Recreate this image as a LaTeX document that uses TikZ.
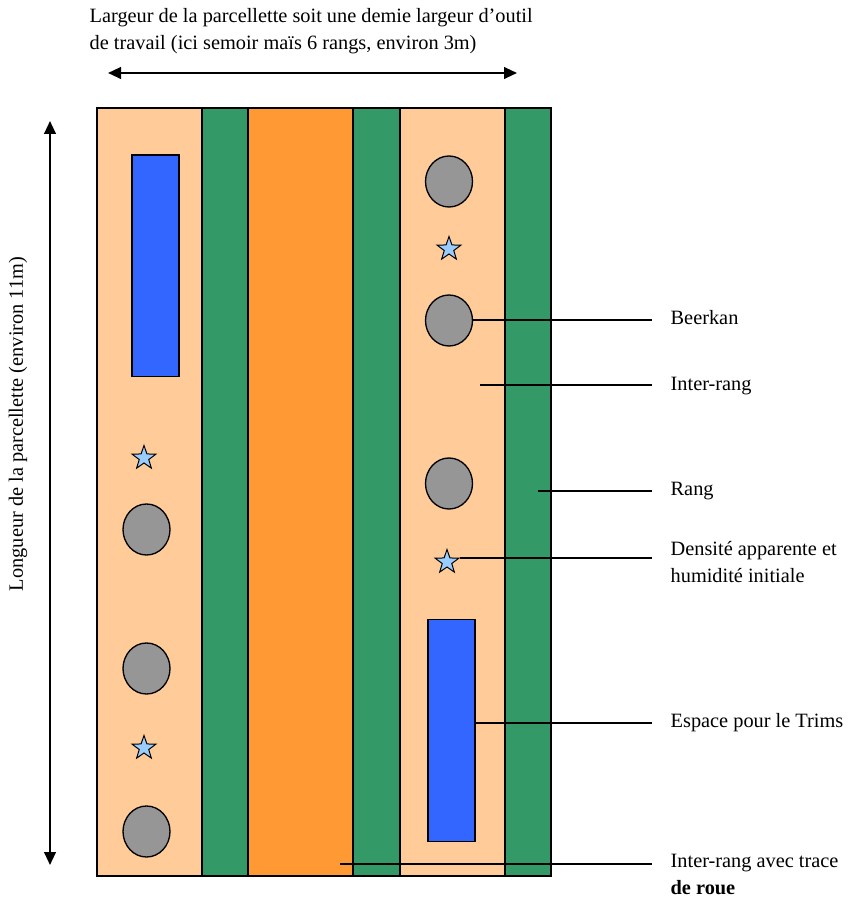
\documentclass[tikz,border=0pt]{standalone}
\usepackage{fontspec}
\setmainfont{Liberation Serif}
\usetikzlibrary{shapes.geometric,arrows.meta}
\definecolor{peach}{HTML}{FFCC99}
\definecolor{rowgreen}{HTML}{339966}
\definecolor{wheelorange}{HTML}{FF9933}
\definecolor{trimsblue}{HTML}{3366FF}
\definecolor{beergray}{HTML}{969696}
\definecolor{starblue}{HTML}{99CCFF}
\begin{document}
\begin{tikzpicture}[x=0.6pt, y=-0.6pt, thick,
  col/.style={draw=black, line width=0.8pt},
  beer/.style={shape=ellipse, draw=black, fill=beergray, minimum width=28.2pt, minimum height=30.6pt, inner sep=0pt, line width=0.8pt},
  dens/.style={shape=star, star points=5, star point ratio=2.5, draw=black, fill=starblue, minimum size=15pt, inner sep=0pt, line width=0.6pt},
  trims/.style={shape=rectangle, draw=black, fill=trimsblue, minimum width=28.2pt, minimum height=133pt, inner sep=0pt, line width=0.8pt},
  lbl/.style={shape=rectangle, draw=none, inner sep=0pt, anchor=west, align=left, font=\fontsize{12.2}{16.2}\selectfont},
  lead/.style={line width=1.2pt, shorten >=10.8pt},
  dim/.style={line width=1.2pt, {Triangle[length=7.8pt,width=7pt]}-{Triangle[length=7.8pt,width=7pt]}}]
%%%%%%%%%%%%%%%%%%%%%%%%%%%%%%%%%%%%%%%%%%% HELP LINES
%\draw[help lines] (0,0) grid[step=50] (849,897);
\useasboundingbox (0,0) rectangle (849,897);

%%%%%%%%%%%%%%%%%%%%%%%%%%%%%%%%%%%%%%%%%%% columns
\draw[col, fill=peach] (97,108) rectangle (202,876);
\draw[col, fill=rowgreen] (202,108) rectangle (248,876);
\draw[col, fill=wheelorange] (248,108) rectangle (353,876);
\draw[col, fill=rowgreen] (353,108) rectangle (400,876);
\draw[col, fill=peach] (400,108) rectangle (505,876);
\draw[col, fill=rowgreen] (505,108) rectangle (551,876);
\draw[line width=1.2pt] (97,108) rectangle (551,876);

%%%%%%%%%%%%%%%%%%%%%%%%%%%%%%%%%%%%%%%%%%% measures
\node[trims](trimsL) at (155.5,266){};
\node[trims](trimsR) at (451.5,730.5){};
\node[beer](beer1) at (146.5,529.5){};
\node[beer](beer2) at (146.5,668.5){};
\node[beer](beer3) at (146.5,831.5){};
\node[beer](beer4) at (449,181.5){};
\node[beer](beer5) at (449,320.5){};
\node[beer](beer6) at (449,483.5){};
\node[dens](dens1) at (144,458){};
\node[dens](dens2) at (144,748){};
\node[dens](dens3) at (449,249){};
\node[dens](dens4) at (447,562){};

%%%%% dimensions
\node[lbl](largeur) at (89,31.5){Largeur de la parcellette soit une demie largeur d’outil\\de travail (ici semoir maïs 6 rangs, environ 3m)};
\coordinate (largeurG) at (108,73);
\coordinate (largeurD) at (517,73);
\draw[dim] (largeurG) -- (largeurD);
\node[lbl, anchor=center, rotate=90](longueur) at (18,424){Longueur de la parcellette (environ 11m)};
\coordinate (longueurH) at (50,121);
\coordinate (longueurB) at (50,865);
\draw[dim] (longueurH) -- (longueurB);

%%%%% legend
\node[lbl](lblbeer) at (670,318){Beerkan};
\node[lbl](lblinter) at (670,386){Inter-rang};
\node[lbl](lblrang) at (670,491){Rang};
\node[lbl](lbldens) at (670,562){Densité apparente et\\humidité initiale};
\node[lbl](lbltrims) at (670,723){Espace pour le Trims};
\node[lbl](lblroue) at (670,874){Inter-rang avec trace\\\textbf{de roue}};
\coordinate (inter) at (480,385);
\coordinate (rang) at (538,491);
\coordinate (roue) at (340,864);
\draw[lead] (beer5.east) -- (beer5.east -| lblbeer.west);
\draw[lead] (inter) -- (inter -| lblinter.west);
\draw[lead] (rang) -- (rang -| lblrang.west);
\draw[lead] (dens4.outer point 5) -- (dens4.outer point 5 -| lbldens.west);
\draw[lead] ([yshift=4.5pt]trimsR.east) -- ([yshift=4.5pt]trimsR.east -| lbltrims.west);
\draw[lead] (roue) -- (roue -| lblroue.west);
\end{tikzpicture}
\end{document}
